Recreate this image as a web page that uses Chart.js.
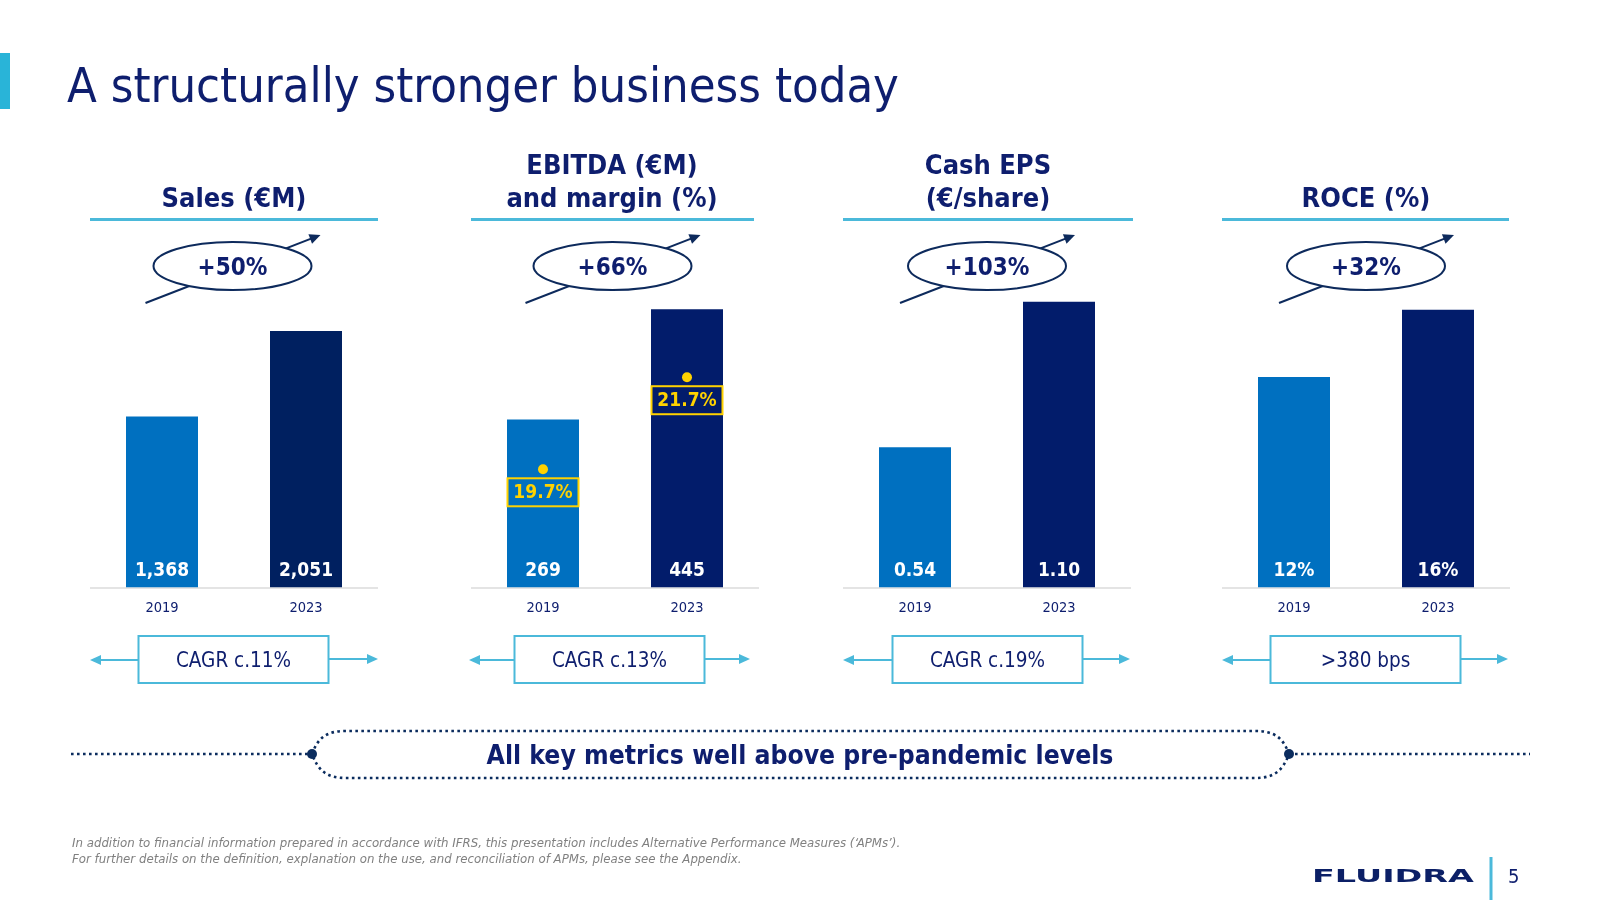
<!DOCTYPE html>
<html>
<head>
<meta charset="utf-8">
<title>A structurally stronger business today</title>
<script src="https://cdn.jsdelivr.net/npm/chart.js@4.4.1/dist/chart.umd.min.js"></script>
<style>
  html, body { margin: 0; padding: 0; background: #fff; }
  #slide { position: relative; width: 1600px; height: 900px; overflow: hidden; }
  .panel { position: absolute; top: 287px; width: 288px; height: 342px; }
  #deco { position: absolute; left: 0; top: 0; pointer-events: none; }
</style>
</head>
<body>
<div id="slide">
  <div class="panel" style="left:90px"><canvas id="chart-sales" width="288" height="342"></canvas></div>
  <div class="panel" style="left:471px"><canvas id="chart-ebitda" width="288" height="342"></canvas></div>
  <div class="panel" style="left:843px"><canvas id="chart-eps" width="288" height="342"></canvas></div>
  <div class="panel" style="left:1222px"><canvas id="chart-roce" width="288" height="342"></canvas></div>
  <svg id="deco" width="1600" height="900" xmlns="http://www.w3.org/2000/svg"></svg>
</div>
<script>
// values
const years = ["2019", "2023"];
const sales = [1368, 2051];
const ebitda = [269, 445];
const ebitdaMargin = [19.7, 21.7];
const cashEps = [0.54, 1.10];
const roce = [12.2, 16.1];

const headers = [["Sales (€M)"], ["EBITDA (€M)", "and margin (%)"], ["Cash EPS", "(€/share)"], ["ROCE (%)"]];
const growthLabels = ["+50%", "+66%", "+103%", "+32%"];
const cagrLabels = ["CAGR c.11%", "CAGR c.13%", "CAGR c.19%", ">380 bps"];

const NAVY = "#0e1e6e";
const DARK = "#0d2a5c";
const BLUE = "#0070c0";
const LIGHT = "#4bb9da";
const YELLOW = "#ffd200";
const COND = "'DejaVu Sans Condensed', 'DejaVu Sans', sans-serif";

function valueLabels(fmt) {
  return {
    id: "valueLabels",
    afterDatasetsDraw(chart) {
      const ctx = chart.ctx;
      const meta = chart.getDatasetMeta(0);
      ctx.save();
      ctx.font = "bold 19px " + COND;
      ctx.fillStyle = "#fff";
      ctx.textAlign = "center";
      ctx.textBaseline = "middle";
      meta.data.forEach((bar, i) => {
        ctx.fillText(fmt(chart.data.datasets[0].data[i]), bar.x, bar.base - 16.5);
      });
      ctx.restore();
    }
  };
}

const marginLabels = {
  id: "marginLabels",
  afterDatasetsDraw(chart) {
    const ctx = chart.ctx;
    const meta = chart.getDatasetMeta(1);
    ctx.save();
    ctx.strokeStyle = YELLOW;
    ctx.lineWidth = 2;
    ctx.fillStyle = YELLOW;
    ctx.font = "bold 19px " + COND;
    ctx.textAlign = "center";
    ctx.textBaseline = "middle";
    meta.data.forEach((pt, i) => {
      ctx.strokeRect(pt.x - 35.5, pt.y + 9, 71, 28);
      ctx.fillText(ebitdaMargin[i].toFixed(1) + "%", pt.x, pt.y + 23.5);
    });
    ctx.restore();
  }
};

function makeChart(id, values, yMax, dark, fmt, extraDatasets, extraScales, extraPlugins) {
  const ctx = document.getElementById(id).getContext("2d");
  const scales = {
    x: {
      grid: { display: false, drawTicks: false },
      border: { display: true, color: "#e4e4e4", width: 2 },
      ticks: { color: NAVY, padding: 12, font: { family: COND, size: 14.5 } }
    },
    y: { display: false, min: 0, max: yMax }
  };
  Object.assign(scales, extraScales || {});
  return new Chart(ctx, {
    type: "bar",
    data: {
      labels: years,
      datasets: [{
        type: "bar",
        data: values,
        backgroundColor: [BLUE, dark],
        barPercentage: 0.5,
        categoryPercentage: 1,
        yAxisID: "y",
        order: 2
      }].concat(extraDatasets || [])
    },
    options: {
      responsive: false,
      animation: false,
      layout: { padding: 0, autoPadding: false },
      plugins: { legend: { display: false }, tooltip: { enabled: false } },
      scales: scales
    },
    plugins: [valueLabels(fmt)].concat(extraPlugins || [])
  });
}

makeChart("chart-sales", sales, 2402, "#002060", v => v.toLocaleString("en-US"));
makeChart("chart-ebitda", ebitda, 480.7, "#021c6b", v => String(v), [{
  type: "line",
  data: ebitdaMargin,
  yAxisID: "y2",
  showLine: false,
  pointRadius: 5,
  pointBackgroundColor: YELLOW,
  pointBorderWidth: 0,
  order: 1
}], { y2: { display: false, min: 17.13, max: 23.66 } }, [marginLabels]);
makeChart("chart-eps", cashEps, 1.157, "#021c6b", v => v.toFixed(2));
makeChart("chart-roce", roce, 17.42, "#021c6b", v => Math.round(v) + "%");

// slide decoration: title, headers, growth ellipses, CAGR boxes, banner, footer
const svg = document.getElementById("deco");
const NS = "http://www.w3.org/2000/svg";
function el(tag, attrs, text) {
  const e = document.createElementNS(NS, tag);
  for (const k in attrs) e.setAttribute(k, attrs[k]);
  if (text !== undefined) e.textContent = text;
  svg.appendChild(e);
  return e;
}
function arrowHead(x, y, dx, dy, len, half, color) {
  const px = -dy, py = dx;
  const bx = x - dx * len, by = y - dy * len;
  el("polygon", {
    points: `${x},${y} ${bx + px * half},${by + py * half} ${bx - px * half},${by - py * half}`,
    fill: color
  });
}

el("rect", { x: 0, y: 53, width: 10, height: 56, fill: "#29b4d8" });
el("text", { x: 67, y: 102, fill: NAVY, "font-family": COND, "font-size": 48.5 }, "A structurally stronger business today");

const headerX = [234, 612, 988, 1366];
const underline = [[90, 378], [471, 754], [843, 1133], [1222, 1509]];
const ellipseX = [232.5, 612.5, 987, 1366];
const boxX = [233.5, 609.5, 987.5, 1365.5];
const sideArrows = [[90, 378], [469, 750], [843, 1130], [1222, 1508]];

headers.forEach((lines, i) => {
  lines.forEach((t, j) => {
    const y = lines.length === 1 ? 207 : 174 + j * 33;
    el("text", { x: headerX[i], y: y, "text-anchor": "middle", fill: NAVY, "font-family": COND,
      "font-size": 27, "font-weight": "bold" }, t);
  });
  el("line", { x1: underline[i][0], x2: underline[i][1], y1: 219.5, y2: 219.5, stroke: LIGHT, "stroke-width": 3 });

  // growth arrow behind the ellipse
  const cx = ellipseX[i], cy = 266;
  const x1 = cx - 87, y1 = cy + 37, x2 = cx + 88, y2 = cy - 31;
  const L = Math.hypot(x2 - x1, y2 - y1), ux = (x2 - x1) / L, uy = (y2 - y1) / L;
  el("line", { x1: x1, y1: y1, x2: x2 - ux * 8, y2: y2 - uy * 8, stroke: DARK, "stroke-width": 2 });
  arrowHead(x2, y2, ux, uy, 11, 5, DARK);
  el("ellipse", { cx: cx, cy: cy, rx: 79, ry: 24, fill: "#fff", stroke: DARK, "stroke-width": 2 });
  el("text", { x: cx, y: cy + 8.5, "text-anchor": "middle", fill: NAVY, "font-family": COND,
    "font-size": 24, "font-weight": "bold" }, growthLabels[i]);

  // CAGR box with side arrows
  const bw = 190, bl = boxX[i] - bw / 2, br = boxX[i] + bw / 2;
  el("line", { x1: bl, x2: sideArrows[i][0] + 9, y1: 660, y2: 660, stroke: LIGHT, "stroke-width": 2 });
  arrowHead(sideArrows[i][0], 660, -1, 0, 11, 5, LIGHT);
  el("line", { x1: br, x2: sideArrows[i][1] - 9, y1: 659, y2: 659, stroke: LIGHT, "stroke-width": 2 });
  arrowHead(sideArrows[i][1], 659, 1, 0, 11, 5, LIGHT);
  el("rect", { x: bl, y: 636, width: bw, height: 47, fill: "#fff", stroke: LIGHT, "stroke-width": 2 });
  el("text", { x: boxX[i], y: 667, "text-anchor": "middle", fill: NAVY, "font-family": COND,
    "font-size": 20.5 }, cagrLabels[i]);
});

// banner
const dots = { stroke: "#0b2c5e", "stroke-width": 2.6, "stroke-dasharray": "2.6 3.4", fill: "none" };
el("line", Object.assign({ x1: 71, x2: 312, y1: 754, y2: 754 }, dots));
el("line", Object.assign({ x1: 1289, x2: 1530, y1: 754, y2: 754 }, dots));
el("path", Object.assign({
  d: "M312,754 C318,738 326,731 346,731 L1255,731 C1275,731 1283,738 1289,754 C1283,770 1275,778 1255,778 L346,778 C326,778 318,770 312,754 Z"
}, dots));
el("circle", { cx: 312, cy: 754, r: 5, fill: "#0b2c5e" });
el("circle", { cx: 1289, cy: 754, r: 5, fill: "#0b2c5e" });
el("text", { x: 800, y: 764, "text-anchor": "middle", fill: NAVY, "font-family": COND,
  "font-size": 26.3, "font-weight": "bold" }, "All key metrics well above pre-pandemic levels");

// footer
el("text", { x: 72, y: 847, fill: "#808080", "font-family": COND, "font-size": 13.1, "font-style": "italic" },
  "In addition to financial information prepared in accordance with IFRS, this presentation includes Alternative Performance Measures (‘APMs’).");
el("text", { x: 72, y: 863, fill: "#808080", "font-family": COND, "font-size": 13.1, "font-style": "italic" },
  "For further details on the definition, explanation on the use, and reconciliation of APMs, please see the Appendix.");
el("text", { x: 1312, y: 882, fill: "#0b1f66", "font-family": "'DejaVu Sans', sans-serif", "font-size": 18,
  "font-weight": "bold", textLength: 162, lengthAdjust: "spacingAndGlyphs" }, "FLUIDRA");
el("line", { x1: 1491, x2: 1491, y1: 857, y2: 900, stroke: LIGHT, "stroke-width": 3 });
el("text", { x: 1508, y: 883, fill: NAVY, "font-family": COND, "font-size": 20 }, "5");
</script>
</body>
</html>
